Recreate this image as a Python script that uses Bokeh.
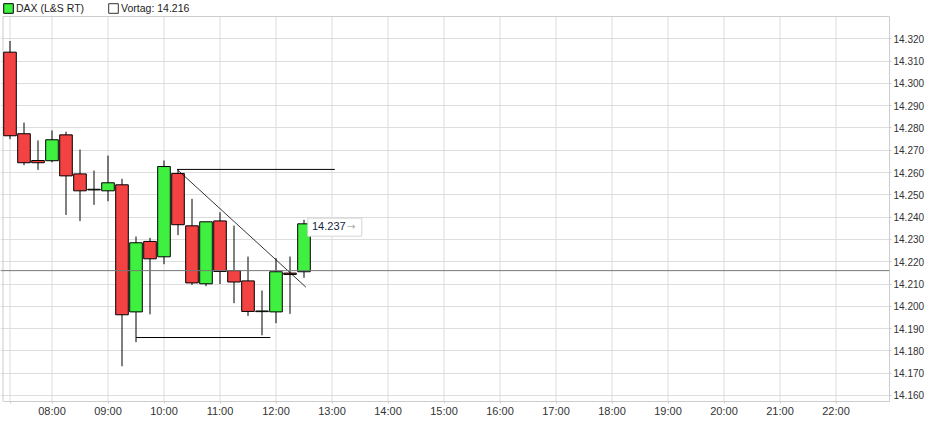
from bokeh.plotting import figure
from bokeh.models import Range1d, FixedTicker, Span, Legend, LegendItem
from bokeh.core.properties import value
from bokeh.embed import file_html
from bokeh.resources import INLINE

# DAX (L&S RT), 15 minute candles, index points
times = ["07:15", "07:30", "07:45", "08:00", "08:15", "08:30", "08:45", "09:00",
         "09:15", "09:30", "09:45", "10:00", "10:15", "10:30", "10:45", "11:00",
         "11:15", "11:30", "11:45", "12:00", "12:15", "12:30"]
opens = [14314.0, 14277.4, 14265.4, 14265.3, 14276.9, 14259.4, 14252.2, 14251.8,
         14254.5, 14197.5, 14229.1, 14222.2, 14259.6, 14236.1, 14210.1, 14238.3,
         14216.0, 14211.4, 14197.6, 14197.5, 14214.9, 14215.5]
highs = [14319.0, 14282.4, 14274.4, 14278.9, 14278.3, 14270.3, 14260.9, 14267.6,
         14257.2, 14231.3, 14230.7, 14265.4, 14261.4, 14248.2, 14237.9, 14242.2,
         14236.2, 14222.3, 14207.1, 14221.6, 14222.3, 14238.8]
lows = [14275.0, 14263.3, 14261.2, 14264.6, 14241.0, 14238.2, 14245.5, 14247.1,
        14173.1, 14183.9, 14196.4, 14218.9, 14231.9, 14209.6, 14209.0, 14210.0,
        14201.4, 14195.7, 14187.0, 14192.4, 14196.6, 14212.8]
closes = [14276.5, 14264.4, 14264.4, 14274.7, 14258.5, 14251.8, 14252.5, 14255.4,
          14196.2, 14228.5, 14221.3, 14262.7, 14236.6, 14210.5, 14237.9, 14215.6,
          14210.9, 14197.7, 14197.9, 14215.5, 14214.3, 14237.0]

prev_close = 14216.0
last_label = "14.237"

# lines drawn on the chart by hand
resist_t = ["10:14", "13:03"]
resist_y = [14261.4, 14261.4]
trend_t = ["10:14", "12:32"]
trend_y = [14261.4, 14208.6]
support_t = ["09:30", "11:54"]
support_y = [14186.0, 14186.0]

hour_ticks = ["07:15", "08:00", "09:00", "10:00", "11:00", "12:00", "13:00", "14:00",
              "15:00", "16:00", "17:00", "18:00", "19:00", "20:00", "21:00", "22:00"]
hour_labels = ["", "08:00", "09:00", "10:00", "11:00", "12:00", "13:00", "14:00",
               "15:00", "16:00", "17:00", "18:00", "19:00", "20:00", "21:00", "22:00"]
price_ticks = [14160, 14170, 14180, 14190, 14200, 14210, 14220, 14230, 14240,
               14250, 14260, 14270, 14280, 14290, 14300, 14310, 14320]
price_labels = ["14.160", "14.170", "14.180", "14.190", "14.200", "14.210", "14.220",
                "14.230", "14.240", "14.250", "14.260", "14.270", "14.280", "14.290",
                "14.300", "14.310", "14.320"]


def mins(s):
    h, m = s.split(":")
    return int(h) * 60 + int(m)


FONT = "Liberation Sans"
RED = "#f34242"
GREEN = "#40f040"
GRID = "#dddddd"
FRAME_W, FRAME_H = 889, 401
PX_PER_MIN = 56 / 60
PX_PER_PT = 2.2294

# chart box (the legend strip above it is part of the bokeh frame)
box_x0, box_y0, box_y1 = 427.5, 14157.3, 14330.0
x_start = box_x0 - 2.5 / PX_PER_MIN
x_end = x_start + FRAME_W / PX_PER_MIN
y_top = box_y0 + FRAME_H / PX_PER_PT

x = [mins(t) for t in times]
up = [c >= o for o, c in zip(opens, closes)]

p = figure(frame_width=FRAME_W, frame_height=FRAME_H,
           x_range=Range1d(x_start, x_end), y_range=Range1d(box_y0, y_top),
           y_axis_location="right", toolbar_location=None, output_backend="svg",
           min_border_left=0, min_border_right=0, min_border_top=0, min_border_bottom=0,
           outline_line_color=None)

p.xaxis.ticker = FixedTicker(ticks=[mins(t) for t in hour_ticks])
p.xaxis.major_label_overrides = {mins(t): l for t, l in zip(hour_ticks, hour_labels)}
p.yaxis.ticker = FixedTicker(ticks=price_ticks)
p.yaxis.major_label_overrides = dict(zip(price_ticks, price_labels))
p.xaxis.bounds = (box_x0, x_end)
p.yaxis.bounds = (box_y0, box_y1)

for ax in (p.xaxis, p.yaxis):
    ax.axis_line_color = "#cccccc"
    ax.major_tick_line_color = "#cccccc"
    ax.major_tick_in = 0
    ax.minor_tick_line_color = None
    ax.major_label_text_font = FONT
    ax.major_label_text_color = "#333333"
p.xaxis.major_tick_out = 2
p.xaxis.major_label_standoff = 1
p.xaxis.major_label_text_font_size = "11px"
p.yaxis.major_tick_out = 2
p.yaxis.major_label_standoff = 2
p.yaxis.major_label_text_font_size = "10px"
p.ygrid.grid_line_color = GRID
p.xgrid.grid_line_color = None

# vertical grid stops at the box top, so it is drawn by hand
tx = [mins(t) for t in hour_ticks]
p.segment(x0=tx, y0=[box_y0] * len(tx), x1=tx, y1=[box_y1] * len(tx), line_color=GRID)
p.segment(x0=[box_x0, box_x0], y0=[box_y0, box_y1], x1=[box_x0, x_end], y1=[box_y1, box_y1],
          line_color="#cccccc")

# wicks, then bodies
p.segment(x0=x, y0=lows, x1=x, y1=highs, line_color="black", line_width=1)

gx = [xi for xi, u in zip(x, up) if u]
gtop = [c for c, u in zip(closes, up) if u]
gbot = [o for o, u in zip(opens, up) if u]
rx = [xi for xi, u in zip(x, up) if not u]
rtop = [o for o, u in zip(opens, up) if not u]
rbot = [c for c, u in zip(closes, up) if not u]

green_r = p.vbar(x=gx, top=gtop, bottom=gbot, width=13.5, fill_color=GREEN, line_color="black")
p.vbar(x=rx, top=rtop, bottom=rbot, width=13.5, fill_color=RED, line_color="black")
# hidden renderer, only there to give the "Vortag" legend entry its white box
white_r = p.vbar(x=[x[0]], top=[prev_close], bottom=[prev_close], width=1,
                 fill_color="white", line_color="#333333", visible=False)

p.line([mins(t) for t in resist_t], resist_y, line_color="black", line_width=1)
p.line([mins(t) for t in trend_t], trend_y, line_color="black", line_width=0.8)
p.line([mins(t) for t in support_t], support_y, line_color="black", line_width=1)

p.add_layout(Span(location=prev_close, dimension="width", line_color="#777777", line_width=1))

# last price tag
p.rect(x=[x[-1] + 33], y=[closes[-1] - 1.5], width=54, height=18,
       width_units="screen", height_units="screen", fill_color="white", line_color="#d6d6d6")
p.text(x=[x[-1]], y=[closes[-1]], text=[last_label], x_offset=8, y_offset=2.5,
       text_font=value(FONT), text_font_size=value("11px"), text_color="#14273f",
       text_baseline="middle", text_align="left")
p.text(x=[x[-1]], y=[closes[-1]], text=["→"], x_offset=43, y_offset=2.5,
       text_font=value("DejaVu Sans"), text_font_size=value("10px"), text_color="#aaaaaa",
       text_baseline="middle", text_align="left")

legend = Legend(items=[LegendItem(label=value("DAX (L&S RT)"), renderers=[green_r]),
                       LegendItem(label=value("Vortag: 14.216"), renderers=[white_r])],
                orientation="horizontal", location="top_left",
                border_line_alpha=0, background_fill_alpha=0, inactive_fill_alpha=0,
                padding=0, margin=2, spacing=23, label_standoff=2,
                glyph_width=12, glyph_height=12, label_height=12,
                label_text_font=FONT, label_text_font_size="10.5px",
                label_text_color="#222222")
p.add_layout(legend)

open("out.html", "w").write(file_html(p, INLINE))
